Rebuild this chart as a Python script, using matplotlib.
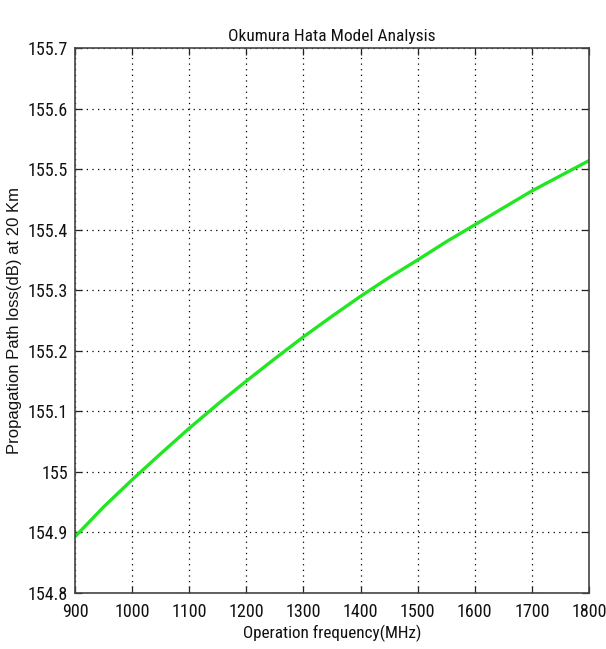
import matplotlib
matplotlib.use("Agg")
import matplotlib.pyplot as plt
from matplotlib import font_manager

freq_mhz = [900, 950, 1000, 1050, 1100, 1150, 1200, 1250, 1300, 1350, 1400,
            1450, 1500, 1550, 1600, 1650, 1700, 1750, 1800]
path_loss_db = [154.893, 154.942, 154.987, 155.030, 155.072, 155.112, 155.150,
                155.187, 155.223, 155.257, 155.290, 155.321, 155.350, 155.380,
                155.408, 155.436, 155.464, 155.489, 155.514]
x_ticks = [900, 1000, 1100, 1200, 1300, 1400, 1500, 1600, 1700, 1800]
y_ticks = [154.8, 154.9, 155.0, 155.1, 155.2, 155.3, 155.4, 155.5, 155.6, 155.7]
y_tick_labels = ["154.8", "154.9", "155", "155.1", "155.2", "155.3", "155.4",
                 "155.5", "155.6", "155.7"]

names = {f.name for f in font_manager.fontManager.ttflist}
narrow = None
for cand in ["Liberation Sans Narrow", "DejaVu Sans Condensed", "Roboto Condensed",
             "Open Sans Condensed", "Noto Sans Condensed"]:
    if cand in names:
        narrow = cand
        break
if narrow is None:
    narrow = "Liberation Sans"
    tick_fs, title_fs, xlab_fs = 10.5, 11.3, 10.8
else:
    tick_fs, title_fs, xlab_fs = 13.0, 12.5, 12.3

fig = plt.figure(figsize=(6.06, 6.49), dpi=100)
ax = fig.add_axes([75 / 606, 1 - 593 / 649, (589 - 75) / 606, (593 - 48) / 649])

ax.plot(freq_mhz, path_loss_db, color="#22e622", linewidth=2.4, solid_capstyle="round")

ax.set_xlim(900, 1800)
ax.set_ylim(154.8, 155.7)
ax.set_xticks(x_ticks)
ax.set_xticklabels([str(v) for v in x_ticks])
ax.set_yticks(y_ticks)
ax.set_yticklabels(y_tick_labels)

ax.grid(True, color="black", linestyle=(0, (1, 3.5)), linewidth=0.9)
ax.tick_params(direction="in", length=5, width=0.9, top=True, right=True,
               labelsize=tick_fs, colors="#222222")
ax.tick_params(axis="x", pad=7)
ax.tick_params(axis="y", pad=5)
for lab in ax.get_xticklabels() + ax.get_yticklabels():
    lab.set_fontfamily(narrow)
    lab.set_color("#111111")
for s in ax.spines.values():
    s.set_color("#444444")
    s.set_linewidth(1.2)

ax.set_title("Okumura Hata Model Analysis", fontfamily=narrow, fontsize=title_fs,
             pad=5, color="#111111")
ax.set_xlabel("Operation frequency(MHz)", fontfamily=narrow, fontsize=xlab_fs,
              labelpad=3, color="#111111")
ax.set_ylabel("Propagation Path loss(dB) at 20 Km", fontfamily="Liberation Sans",
              fontsize=12.0, labelpad=4, color="#111111")

fig.savefig("out.png", dpi=100)
